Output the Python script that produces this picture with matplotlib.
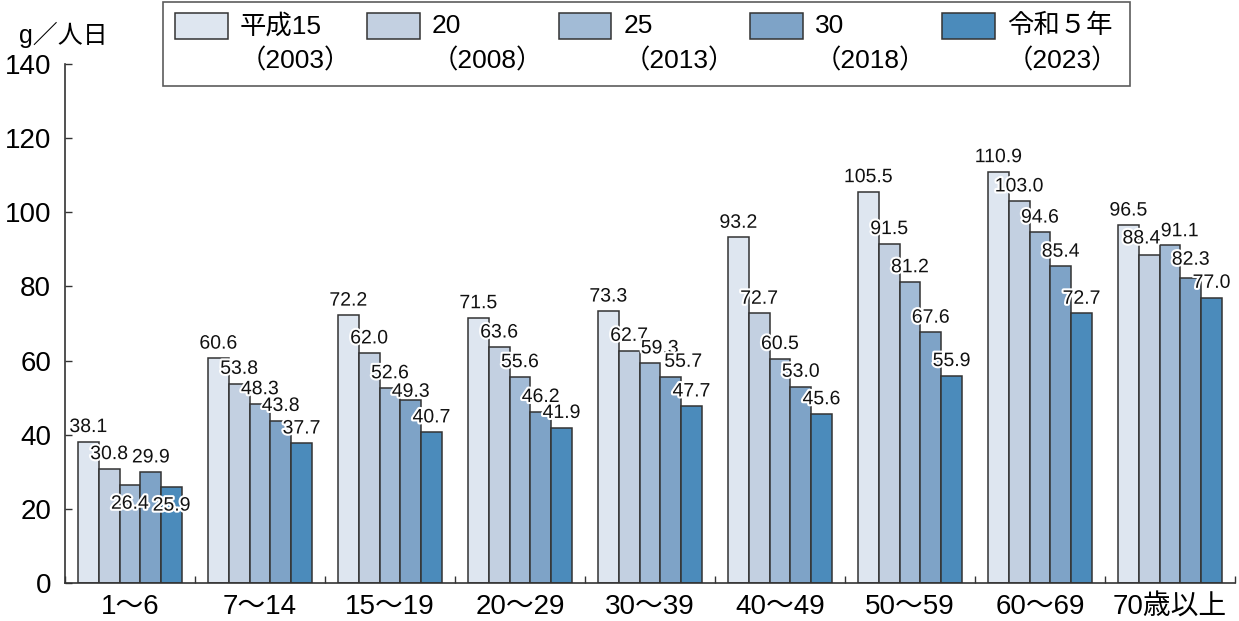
import matplotlib
matplotlib.use("Agg")
import matplotlib.pyplot as plt
import matplotlib.patheffects as pe
from matplotlib.patches import Rectangle
from matplotlib.legend_handler import HandlerPatch
import numpy as np

plt.rcParams['font.family'] = ['Liberation Sans', 'Noto Sans CJK JP']

# 年齢階級
age_groups = ['1〜6', '7〜14', '15〜19', '20〜29', '30〜39', '40〜49', '50〜59', '60〜69', '70歳以上']

# 年次ごとの値 (g/人日)
h15 = [38.1, 60.6, 72.2, 71.5, 73.3, 93.2, 105.5, 110.9, 96.5]
h20 = [30.8, 53.8, 62.0, 63.6, 62.7, 72.7, 91.5, 103.0, 88.4]
h25 = [26.4, 48.3, 52.6, 55.6, 59.3, 60.5, 81.2, 94.6, 91.1]
h30 = [29.9, 43.8, 49.3, 46.2, 55.7, 53.0, 67.6, 85.4, 82.3]
r5 = [25.9, 37.7, 40.7, 41.9, 47.7, 45.6, 55.9, 72.7, 77.0]

series = [h15, h20, h25, h30, r5]
legend_labels = ['平成15\n（2003）', '20\n（2008）', '25\n（2013）', '30\n（2018）', '令和５年\n（2023）']
colors = ['#dee6f0', '#c3d0e1', '#a2bbd6', '#7ea3c7', '#4b8bbb']

# 重なりを避けるためのラベル位置の調整 (系列番号, 年齢階級番号) -> (dx, dy) pt
label_shift = {
    (2, 0): (0, -17), (4, 0): (0, -17),
    (3, 2): (0, 2.5),
    (2, 4): (7, 7), (3, 4): (9, 7),
    (1, 8): (-5.5, 8.5), (2, 8): (7, 6.5), (3, 8): (0, 9.5),
}

fig = plt.figure(figsize=(12.39, 6.21), dpi=100)
ax = fig.add_axes([65 / 1239, 1 - 583 / 621, 1170 / 1239, (583 - 64) / 621])

x = np.arange(len(age_groups))
bar_w = 0.16
edge = '#333333'
halo = [pe.withStroke(linewidth=3, foreground='white')]

handles = []
for i, (vals, col) in enumerate(zip(series, colors)):
    pos = x + (i - 2) * bar_w
    bars = ax.bar(pos, vals, width=bar_w, color=col, edgecolor=edge, linewidth=1.1, zorder=2)
    handles.append(bars[0])
    for j, (p, v) in enumerate(zip(pos, vals)):
        dx, dy = label_shift.get((i, j), (0, 7))
        ax.annotate(f'{v:.1f}', xy=(p, v), xytext=(dx, dy), textcoords='offset points',
                    ha='center', va='baseline', fontsize=14, color='#111111',
                    path_effects=halo, zorder=5)

ax.set_xlim(-0.5, len(age_groups) - 0.5)
ax.set_ylim(0, 140)
ax.set_yticks(range(0, 141, 20))
ax.set_xticks(x)
ax.set_xticklabels(age_groups)
ax.set_xticks(np.arange(-0.5, len(age_groups), 1.0), minor=True)

for s in ['top', 'right']:
    ax.spines[s].set_visible(False)
for s in ['left', 'bottom']:
    ax.spines[s].set_color(edge)
    ax.spines[s].set_linewidth(1.2)

ax.tick_params(axis='y', direction='in', length=5, width=1, color=edge, labelsize=20, pad=10)
ax.tick_params(axis='x', which='major', length=0, labelsize=20, pad=8)
ax.tick_params(axis='x', which='minor', direction='in', length=5, width=1, color=edge)

fig.text(63 / 1239, 1 - 35 / 621, 'g／人日', ha='center', va='center', fontsize=18)


def top_patch(legend, orig_handle, xdescent, ydescent, width, height, fontsize):
    # 凡例の色見本を1行目にそろえる
    return Rectangle((-xdescent, -ydescent + 13), width, height)


leg = fig.legend(handles, legend_labels, loc='upper left', bbox_to_anchor=(163 / 1239, 1 - 2 / 621),
                 borderaxespad=0, ncol=5, fontsize=19, frameon=True, fancybox=False, borderpad=0.45,
                 handlelength=2.0, handleheight=1.12, handletextpad=0.45, columnspacing=0.6,
                 handler_map={matplotlib.patches.Rectangle: HandlerPatch(patch_func=top_patch)})
leg.get_frame().set_edgecolor(edge)
leg.get_frame().set_linewidth(1.2)
for t in leg.get_texts():
    t.set_linespacing(1.5)

fig.savefig('out.png', dpi=100)
